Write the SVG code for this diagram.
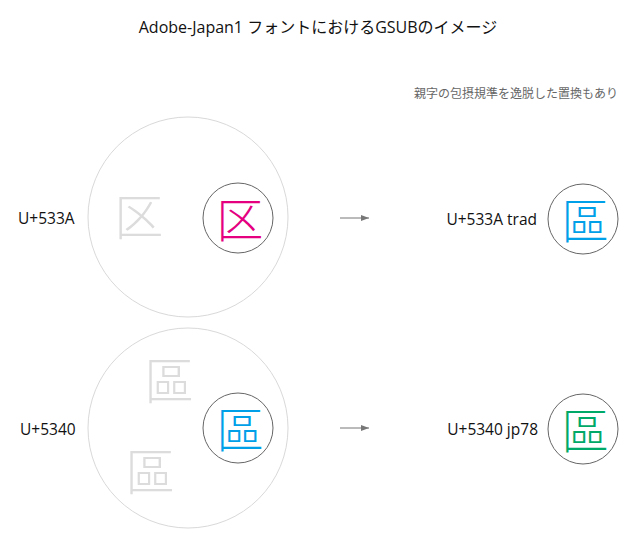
<svg xmlns="http://www.w3.org/2000/svg" width="637" height="547" viewBox="0 0 637 547">
<style>
.lbl{font-family:"Open Sans","Liberation Sans","Noto Sans CJK JP",sans-serif;font-size:15.5px;fill:#111}
.big{fill:none;stroke:#d9d9d9;stroke-width:1}
.small{fill:none;stroke:#666;stroke-width:1}
.gl{font-family:"Noto Sans CJK JP",sans-serif;text-anchor:middle;font-weight:300}
.conn{stroke:#777;stroke-width:1;fill:none}
</style>
<defs>
<marker id="ah" viewBox="0 0 8 6" refX="8" refY="3" markerWidth="8" markerHeight="6" markerUnits="userSpaceOnUse" orient="auto">
<path d="M0,0 L8,3 L0,6 Z" fill="#777"/>
</marker>
</defs>
<rect width="637" height="547" fill="#fff"/>
<text x="318" y="33" text-anchor="middle" class="lbl" style="font-size:16px">Adobe-Japan1 フォントにおけるGSUBのイメージ</text>
<text x="618" y="98" text-anchor="end" style="font-family:'Noto Sans CJK JP',sans-serif;font-size:12px;fill:#666">親字の包摂規準を逸脱した置換もあり</text>

<g id="src1">
<circle class="big" cx="188" cy="217" r="100"/>
<text class="gl" x="139" y="235" font-size="49" fill="#dcdcdc">区</text>
<circle class="small" cx="238" cy="218" r="35"/>
<text class="gl" x="240" y="237" font-size="47" fill="#e4007f">区</text>
<text class="lbl" x="18" y="224">U+533A</text>
</g>

<g id="src2">
<circle class="big" cx="188" cy="428" r="100"/>
<text class="gl" x="169" y="399" font-size="49" fill="#dcdcdc">區</text>
<text class="gl" x="150" y="490" font-size="49" fill="#dcdcdc">區</text>
<circle class="small" cx="238" cy="428" r="35"/>
<text class="gl" x="240" y="447" font-size="47" fill="#00a0e9">區</text>
<text class="lbl" x="20" y="435">U+5340</text>
</g>

<g id="dst1">
<circle class="small" cx="583" cy="219" r="35"/>
<text class="gl" x="585" y="238" font-size="47" fill="#00a0e9">區</text>
<text class="lbl" x="537" y="225" text-anchor="end">U+533A trad</text>
</g>

<g id="dst2">
<circle class="small" cx="583" cy="429" r="35"/>
<text class="gl" x="585" y="448" font-size="47" fill="#00a968">區</text>
<text class="lbl" x="538" y="435" text-anchor="end">U+5340 jp78</text>
</g>

<g id="connectors">
<line class="conn" x1="340" y1="218" x2="369" y2="218" marker-end="url(#ah)"/>
<line class="conn" x1="340" y1="428" x2="369" y2="428" marker-end="url(#ah)"/>
</g>
</svg>
